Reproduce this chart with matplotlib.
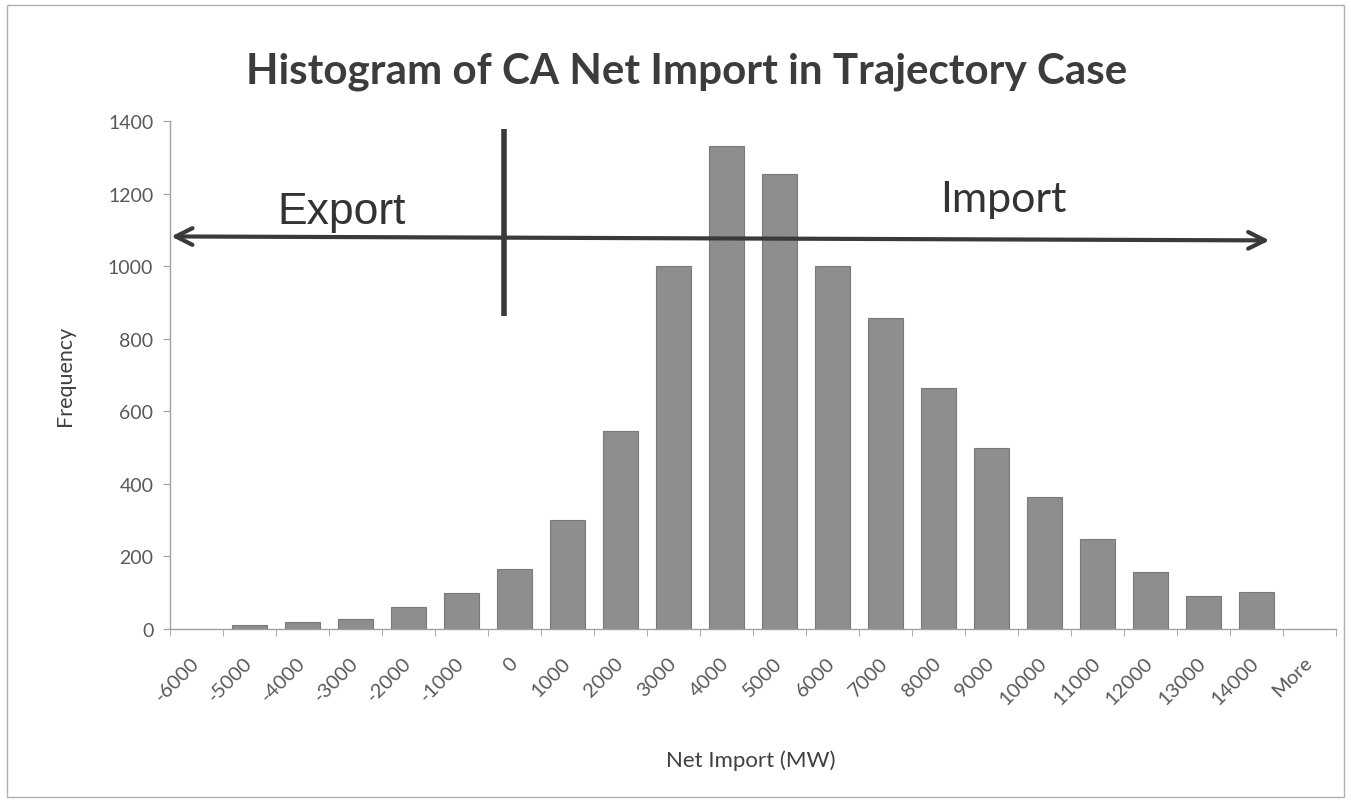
import matplotlib
matplotlib.use("Agg")
import matplotlib.pyplot as plt
from matplotlib.patches import Rectangle

# histogram bins (upper edge, MW) and counts per bin
bins = ['-6000', '-5000', '-4000', '-3000', '-2000', '-1000', '0', '1000',
        '2000', '3000', '4000', '5000', '6000', '7000', '8000', '9000',
        '10000', '11000', '12000', '13000', '14000', 'More']
counts = [0, 10, 18, 28, 62, 98, 165, 300, 545, 1000, 1330, 1255,
          1000, 858, 664, 499, 363, 248, 158, 92, 103, 0]
yticks = [0, 200, 400, 600, 800, 1000, 1200, 1400]

plt.rcParams['font.family'] = ['Lato', 'DejaVu Sans']

fig = plt.figure(figsize=(13.51, 8.04), dpi=100)
ax = fig.add_axes([0.1258, 0.2164, 0.863, 0.6318])

x = list(range(len(bins)))
ax.bar(x, counts, width=0.66, color='#8e8e8e', edgecolor='#7a7a7a', linewidth=0.8, zorder=2)

ax.set_xlim(-0.5, len(bins) - 0.5)
ax.set_ylim(0, 1400)
ax.set_yticks(yticks)
ax.set_yticklabels([str(v) for v in yticks], fontsize=14, color='#595959')

# labels at bin centres, tick marks at bin boundaries
ax.set_xticks(x)
ax.set_xticklabels(bins, rotation=45, ha='right', va='center',
                   rotation_mode='anchor', fontsize=14.5, color='#595959')
ax.set_xticks([i - 0.5 for i in range(len(bins) + 1)], minor=True)
ax.tick_params(axis='x', which='major', length=0, pad=22)
ax.tick_params(axis='x', which='minor', length=5, color='#a0a0a0')
ax.tick_params(axis='y', length=5, color='#a0a0a0', pad=7)
for lbl in ax.get_xticklabels():
    lbl.set_x(lbl.get_position()[0])

for side in ['top', 'right']:
    ax.spines[side].set_visible(False)
for side in ['left', 'bottom']:
    ax.spines[side].set_color('#a0a0a0')
    ax.spines[side].set_linewidth(1)

ax.set_xlabel('Net Import (MW)', fontsize=16, color='#404040', va='center')
ax.set_ylabel('Frequency', fontsize=15.5, color='#404040', va='center')
ax.xaxis.set_label_coords(0.498, -0.258)
ax.yaxis.set_label_coords(-0.09, 0.5)

fig.text(0.508, 0.911, 'Histogram of CA Net Import in Trajectory Case',
         ha='center', va='center', fontsize=30.3, fontweight='bold', color='#3c3c3c')

# export / import arrow and the zero divider
ax.annotate('', xy=(-0.53, 1082), xytext=(20.3, 1071),
            arrowprops=dict(arrowstyle='<->', lw=3, color='#3a3a3a', mutation_scale=30),
            annotation_clip=False, zorder=5)
ax.plot([5.81, 5.81], [863, 1377], lw=4, color='#3a3a3a', solid_capstyle='butt', zorder=5)
ax.text(2.73, 1150, 'Export', ha='center', va='center', fontsize=32,
        family='Liberation Sans', color='#333333', zorder=5)
ax.text(15.22, 1185, 'Import', ha='center', va='center', fontsize=31,
        color='#333333', zorder=5)

# thin frame around the chart area
fig.patches.append(Rectangle((0.005, 0.008), 0.99, 0.985, transform=fig.transFigure,
                             fill=False, edgecolor='#b0b0b0', linewidth=1))

fig.savefig('out.png', dpi=100)
